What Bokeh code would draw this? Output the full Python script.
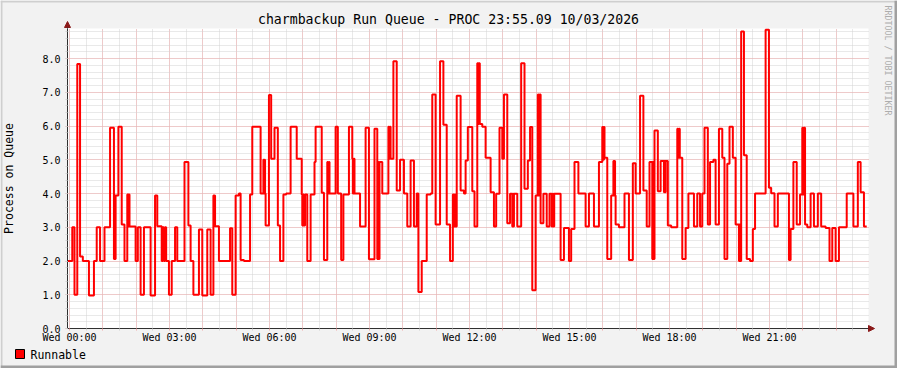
from bokeh.plotting import figure
from bokeh.models import (Range1d, SingleIntervalTicker, FixedTicker, Arrow, NormalHead, Label,
                          NumeralTickFormatter, BoxAnnotation, Grid)
from bokeh.embed import file_html
from bokeh.resources import INLINE
import math

# ---------------- data (minutes since Wed 00:00, run-queue value) ----------------
title_text = "charmbackup Run Queue - PROC 23:55.09 10/03/2026"
series_name = "Runnable"
y_axis_title = "Process on Queue"
watermark = "RRDTOOL / TOBI OETIKER"
x_tick_minutes = [0, 180, 360, 540, 720, 900, 1080, 1260]
x_tick_labels = ["Wed 00:00", "Wed 03:00", "Wed 06:00", "Wed 09:00",
                 "Wed 12:00", "Wed 15:00", "Wed 18:00", "Wed 21:00"]

minutes = [
    -3.5, 5, 9, 14, 19, 24, 35, 44, 49, 55, 63, 73, 80, 81, 82, 83, 88, 94, 99,
    104, 106, 107, 108, 119, 123, 128, 134, 146, 154, 158, 166, 168, 170, 172, 174, 179, 184, 190, 194,
    207, 214, 218, 223, 233, 239, 248, 254, 259, 260, 261, 262, 269, 289, 293, 299, 305, 308, 314, 325,
    329, 344, 349, 350, 351, 352, 353, 359, 363, 369, 375, 379, 385, 390, 398, 409, 418, 419, 420.5, 422,
    424, 428, 434, 441, 443, 454, 458, 464, 465, 466.5, 468, 479, 483, 489, 493, 503, 509, 510, 511.5, 513,
    523, 533, 539, 549, 554, 555, 556.5, 558, 563, 574, 575, 576.5, 578, 583, 589, 595, 602, 608, 614, 620,
    625, 628, 634, 643, 650, 653, 659, 667, 673, 679, 685, 690, 691.5, 693, 694.5, 697, 704, 710, 713, 717,
    725, 729, 734, 735.5, 737, 738.5, 743, 749, 758, 764, 768, 774, 779, 780, 781, 782, 788, 793, 797, 798,
    799, 800, 806, 813, 819, 825, 829, 833, 839, 843, 844.5, 846, 848, 853, 859, 864, 868, 869.5, 871, 872.5,
    884, 890, 899, 903, 909, 916, 929, 935, 944, 953, 959, 960.5, 962, 963, 968, 975, 979, 980, 981, 982,
    983, 989, 999, 1007, 1014, 1019, 1027, 1033, 1039, 1044, 1049, 1050, 1051, 1053, 1059, 1064, 1070, 1071, 1072, 1073,
    1077, 1083, 1094, 1095.5, 1097, 1098.5, 1103, 1109, 1114, 1124, 1130, 1135, 1139, 1143, 1149, 1153, 1159, 1163, 1169, 1175,
    1179, 1184, 1188, 1194, 1199, 1205, 1206, 1207, 1209, 1214, 1219, 1225, 1230, 1234, 1253, 1259, 1263, 1269, 1275, 1295,
    1298, 1303, 1309, 1315, 1319, 1320.5, 1322, 1324, 1328, 1334, 1340, 1347, 1353, 1361, 1368, 1373, 1379, 1385, 1399, 1411,
    1419, 1424, 1430, 1435,
]
runnable = [
    2.0, 3.0, 1.0, 7.84, 2.13, 2.0, 0.98, 2.0, 3.0, 2.0, 3.0, 5.95, 2.06, 3.94, 2.06, 3.94, 5.98, 3.08, 2.0,
    3.97, 3.02, 3.97, 3.02, 2.0, 3.0, 1.0, 3.0, 0.98, 3.94, 3.03, 2.0, 3.0, 2.0, 3.0, 2.0, 1.0, 2.0, 3.0, 2.0,
    4.93, 3.05, 2.0, 1.0, 2.93, 0.98, 2.93, 1.0, 3.94, 3.03, 3.94, 3.03, 2.0, 2.97, 1.0, 3.94, 4.0, 2.03, 2.0, 3.97,
    5.98, 4.0, 5.0, 4.0, 5.0, 4.0, 3.05, 6.92, 5.03, 5.95, 3.05, 2.0, 3.97, 4.0, 5.98, 5.03, 3.97, 3.05, 3.97, 3.05,
    3.97, 2.0, 3.97, 4.93, 5.98, 4.02, 2.03, 4.93, 4.0, 4.93, 4.0, 5.98, 4.0, 2.03, 3.97, 5.98, 5.03, 4.0, 5.03, 4.0,
    3.02, 5.95, 2.05, 5.92, 2.06, 4.93, 2.06, 4.93, 4.0, 5.98, 5.03, 5.98, 5.03, 7.92, 4.09, 5.0, 4.0, 3.02, 4.98, 3.02,
    4.0, 1.08, 2.0, 3.97, 4.0, 6.93, 3.08, 7.92, 6.04, 3.08, 2.0, 3.97, 3.02, 3.97, 3.02, 6.9, 4.09, 4.0, 4.98, 5.97,
    4.07, 3.02, 7.86, 6.06, 7.86, 6.06, 5.98, 5.06, 4.04, 3.02, 3.99, 5.95, 5.03, 5.95, 5.03, 6.93, 3.12, 3.99, 3.02, 3.99,
    3.02, 3.99, 3.02, 7.86, 4.14, 4.98, 5.97, 1.13, 3.94, 6.93, 3.94, 6.93, 3.12, 3.99, 3.02, 3.99, 3.02, 3.99, 3.02, 3.99,
    2.03, 2.98, 2.0, 2.95, 4.93, 4.0, 3.02, 4.0, 3.02, 4.93, 5.97, 5.0, 5.97, 5.06, 2.06, 3.94, 4.96, 3.94, 4.96, 3.94,
    3.08, 3.0, 4.0, 2.03, 4.9, 4.0, 6.9, 4.09, 3.02, 4.93, 2.06, 4.93, 2.06, 5.87, 4.07, 4.96, 4.04, 4.96, 4.04, 4.96,
    3.05, 3.0, 5.92, 5.06, 5.92, 5.06, 2.06, 2.98, 4.0, 3.02, 4.0, 3.02, 4.0, 5.95, 3.08, 4.93, 5.0, 3.08, 5.92, 5.06,
    2.06, 4.88, 5.98, 5.06, 3.08, 2.0, 3.08, 2.0, 8.8, 5.13, 2.06, 2.0, 2.95, 4.0, 8.85, 4.17, 4.01, 3.02, 4.0, 2.03,
    2.95, 4.93, 3.08, 3.97, 5.95, 3.97, 5.95, 3.08, 3.0, 4.0, 3.02, 4.0, 3.02, 2.98, 2.0, 2.98, 2.0, 3.0, 4.0, 3.02,
    4.93, 4.04, 3.02, 3.02,
]

# visible window of the graph (data units)
X0, X1 = -3.6, 1438.2      # minutes
Y0, Y1 = 0.0, 8.8889       # processes

# ---------------- styling ----------------
BACK = "#F2F2F2"
CANVAS = "#FFFFFF"
SHADE_A = "#CFCFCF"
SHADE_B = "#A0A0A0"
MGRID = "#F2ABAB"
GRID = "#D2D2D2"
AXIS = "#303030"
ARROW = "#8B1A1A"
LINE = "#FF0000"
MONO = "DejaVu Sans Mono"

W, H = 897, 368
PX_PER_MIN = 1 / 1.8       # horizontal scale of the graph area
PX_PER_UNIT = 33.75        # vertical scale of the graph area
ORIGIN_X, ORIGIN_Y = 69, 328   # canvas pixel of (0 min, 0.0)

# the frame covers the whole canvas; ranges are chosen so the graph window lands in place
xr = Range1d(-ORIGIN_X / PX_PER_MIN, (W - ORIGIN_X) / PX_PER_MIN)
yr = Range1d(-(H - ORIGIN_Y) / PX_PER_UNIT, ORIGIN_Y / PX_PER_UNIT)

p = figure(width=W, height=H, output_backend="svg", toolbar_location=None,
           x_range=xr, y_range=yr, min_border=0,
           min_border_left=0, min_border_right=0, min_border_top=0, min_border_bottom=0)
p.title.text = ""
p.title.visible = False
p.background_fill_color = BACK
p.border_fill_color = BACK
p.outline_line_color = None

# white graph canvas
p.add_layout(BoxAnnotation(left=X0, right=X1, bottom=Y0, top=Y1, fill_color=CANVAS, fill_alpha=1,
                           line_color=None, level="image"))

# grids
p.xgrid.ticker = SingleIntervalTicker(interval=60, num_minor_ticks=2)
p.ygrid.ticker = SingleIntervalTicker(interval=1, num_minor_ticks=5)
p.xgrid.bounds = (X0, X1)
p.ygrid.bounds = (Y0, Y1)
has_cross = "cross_bounds" in Grid.properties()
if has_cross:
    p.xgrid.cross_bounds = (Y0, Y1)
    p.ygrid.cross_bounds = (X0, X1)
for g in (p.xgrid, p.ygrid):
    g.grid_line_color = MGRID
    g.grid_line_dash = "1 1"
    g.minor_grid_line_color = GRID
    g.minor_grid_line_dash = "1 1"
if not has_cross:
    for g in (p.xgrid, p.ygrid):
        g.visible = False
    vmaj = list(range(60, 1440, 60)); vmin = list(range(30, 1440, 60))
    hmaj = [float(v) for v in range(1, 9)]
    hmin = [i / 5 for i in range(1, 45) if i % 5]
    p.segment(x0=vmin, x1=vmin, y0=[Y0] * len(vmin), y1=[Y1] * len(vmin), line_color=GRID, line_dash="1 1")
    p.segment(x0=[X0] * len(hmin), x1=[X1] * len(hmin), y0=hmin, y1=hmin, line_color=GRID, line_dash="1 1")
    p.segment(x0=vmaj, x1=vmaj, y0=[Y0] * len(vmaj), y1=[Y1] * len(vmaj), line_color=MGRID, line_dash="1 1")
    p.segment(x0=[X0] * len(hmaj), x1=[X1] * len(hmaj), y0=hmaj, y1=hmaj, line_color=MGRID, line_dash="1 1")

# x axis (drawn at value 0)
xa = p.xaxis[0]
xa.fixed_location = Y0
xa.bounds = (X0, X1)
xa.ticker = FixedTicker(ticks=list(range(0, 1440, 60)), minor_ticks=list(range(30, 1440, 60)))
overrides = {m: "" for m in range(0, 1440, 60)}
overrides.update({m: lab for m, lab in zip(x_tick_minutes, x_tick_labels)})
xa.major_label_overrides = overrides
xa.major_label_text_font = MONO
xa.major_label_text_font_size = "10px"
xa.major_label_text_color = "#000000"
xa.major_label_standoff = 1
xa.axis_line_color = AXIS
xa.major_tick_out = 2
xa.major_tick_in = 0
xa.major_tick_line_color = MGRID
xa.minor_tick_out = 2
xa.minor_tick_in = 0
xa.minor_tick_line_color = GRID

# y axis (drawn at the left edge of the graph window)
ya = p.yaxis[0]
ya.fixed_location = X0
ya.bounds = (Y0, Y1)
ya.ticker = SingleIntervalTicker(interval=1, num_minor_ticks=5)
ya.formatter = NumeralTickFormatter(format="0.0")
ya.major_label_text_font = MONO
ya.major_label_text_font_size = "10px"
ya.major_label_text_color = "#000000"
ya.major_label_standoff = 5
ya.axis_line_color = AXIS
ya.major_tick_out = 2
ya.major_tick_in = 0
ya.major_tick_line_color = MGRID
ya.minor_tick_out = 2
ya.minor_tick_in = 0
ya.minor_tick_line_color = GRID
ya.axis_label = y_axis_title
ya.axis_label_text_font = MONO
ya.axis_label_text_font_size = "11.5px"
ya.axis_label_text_font_style = "normal"
ya.axis_label_text_color = "#000000"
ya.axis_label_standoff = 23

# axis arrows
p.add_layout(Arrow(end=NormalHead(size=6, fill_color=ARROW, line_color=ARROW),
                   x_start=X0, y_start=Y1, x_end=X0, y_end=Y1 + 7 / PX_PER_UNIT, line_color=AXIS))
p.add_layout(Arrow(end=NormalHead(size=6, fill_color=ARROW, line_color=ARROW),
                   x_start=X1, y_start=Y0, x_end=X1 + 6 / PX_PER_MIN, y_end=Y0, line_color=AXIS))

# data line
p.step(x=minutes, y=runnable, mode="after", line_color=LINE, line_width=2)

# legend: filled square swatch with black frame + series name
p.add_layout(BoxAnnotation(left=15, right=24, top=H - 349, bottom=H - 358,
                           left_units="screen", right_units="screen",
                           top_units="screen", bottom_units="screen",
                           fill_color=LINE, fill_alpha=1, line_color="#000000", line_alpha=1,
                           line_width=1))
p.add_layout(Label(x=30, y=H - 354, x_units="screen", y_units="screen", text=series_name,
                   text_font=MONO, text_font_size="11.5px", text_align="left",
                   text_baseline="middle", text_color="#000000"))

# title and watermark
p.add_layout(Label(x=448, y=H - 19, x_units="screen", y_units="screen", text=title_text,
                   text_font=MONO, text_font_size="13.2px", text_align="center",
                   text_baseline="middle", text_color="#000000"))
p.add_layout(Label(x=887, y=H - 60, x_units="screen", y_units="screen", text=watermark,
                   text_font=MONO, text_font_size="8.3px", text_align="center",
                   text_baseline="middle", angle=-math.pi / 2, text_color="#ADADAD"))

# 3D shading of the image border
def strip(l, r, t, b, c):
    p.add_layout(BoxAnnotation(left=l, right=r, top=H - t, bottom=H - b,
                               left_units="screen", right_units="screen",
                               top_units="screen", bottom_units="screen",
                               fill_color=c, fill_alpha=1, line_color=None))

strip(0, W, 0, 2, SHADE_A)
strip(0, 2, 0, H, SHADE_A)
strip(0, W, H - 3, H, SHADE_B)
strip(W - 3, W, 0, H, SHADE_B)

open("out.html", "w").write(file_html(p, INLINE))
